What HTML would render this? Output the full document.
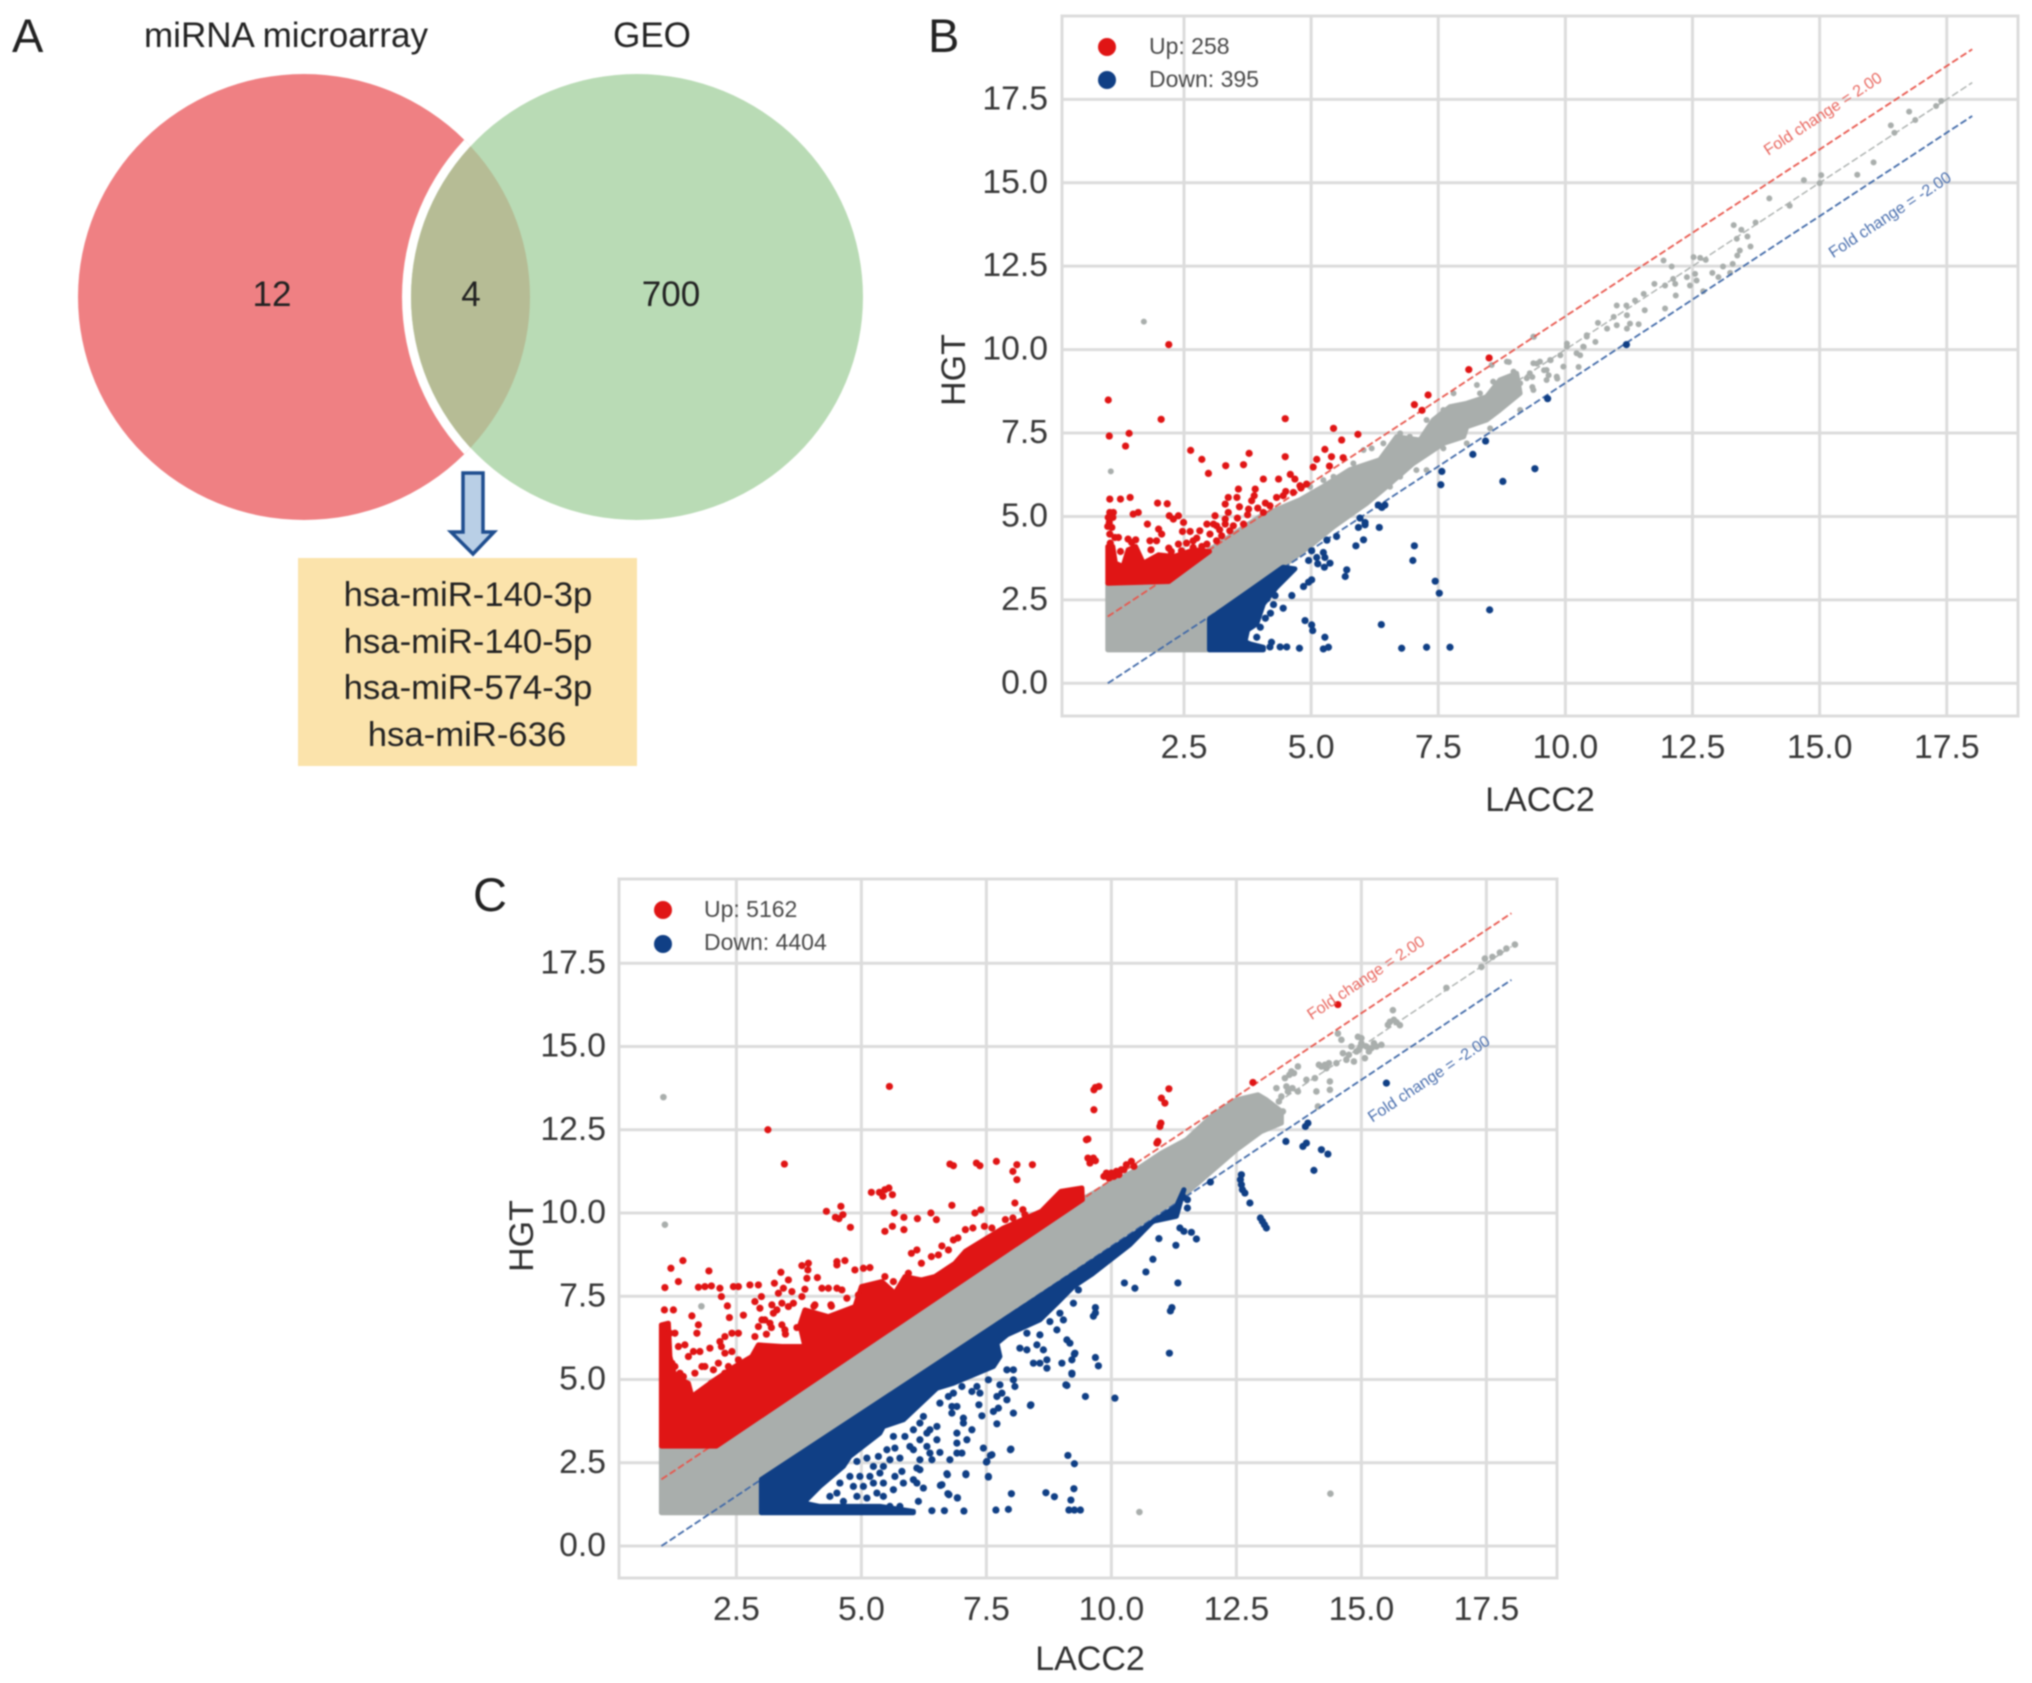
<!DOCTYPE html>
<html lang="en">
<head>
<meta charset="utf-8">
<title>Venn diagram and fold change scatter plots</title>
<style>
html,body{margin:0;padding:0;background:#fff;}
svg{display:block;filter:blur(0.7px);}
text{font-family:"Liberation Sans",sans-serif;}
.tick{font-size:33.7px;fill:#383838;}
.axis-title{font-size:34px;fill:#303030;}
.legend-text{font-size:23px;fill:#4a4a4a;}
.fold-up{font-size:16px;fill:#e8665e;}
.fold-down{font-size:16px;fill:#4a6fae;}
.panel-letter{font-size:47px;fill:#222;}
.venn-text{font-size:35px;fill:#222;}
.mirna{font-size:34.7px;fill:#222;text-anchor:middle;}
</style>
</head>
<body>
<svg id="figure" xmlns="http://www.w3.org/2000/svg" width="2032" height="1683" viewBox="0 0 2032 1683">
<defs>
<clipPath id="red-clip"><ellipse cx="304" cy="297" rx="226" ry="223"/></clipPath>
</defs>
<rect width="2032" height="1683" fill="#fff"/>

<g>
<text class="panel-letter" x="12" y="52">A</text>
<text class="venn-text" x="286" y="47" text-anchor="middle">miRNA microarray</text>
<text class="venn-text" x="652" y="47" text-anchor="middle">GEO</text>
<ellipse cx="304" cy="297" rx="226" ry="223" fill="#ef8083"/>
<ellipse cx="637" cy="297" rx="235" ry="232" fill="#fff" clip-path="url(#red-clip)"/>
<ellipse cx="637" cy="297" rx="226" ry="223" fill="#b9dbb5"/>
<ellipse cx="637" cy="297" rx="226" ry="223" fill="#b6bc95" clip-path="url(#red-clip)"/>
<text class="venn-text" x="272" y="306" text-anchor="middle">12</text>
<text class="venn-text" x="471" y="306" text-anchor="middle">4</text>
<text class="venn-text" x="671" y="306" text-anchor="middle">700</text>
<path d="M463 473 H483 V532 H494 L473 554 L451 532 H463 Z" fill="#b9cfe6" stroke="#1f4e8f" stroke-width="3.5" stroke-linejoin="miter"/>
<rect x="298" y="558" width="339" height="208" fill="#fbe3ab"/>
<text class="mirna" x="468" y="606">hsa-miR-140-3p</text>
<text class="mirna" x="468" y="653">hsa-miR-140-5p</text>
<text class="mirna" x="468" y="699">hsa-miR-574-3p</text>
<text class="mirna" x="467" y="746">hsa-miR-636</text>
</g>

<g id="panel-b"></g>
<g id="panel-c"></g>

<g>
<text class="panel-letter" x="928" y="52">B</text>
<circle cx="1107" cy="47" r="9" fill="#e01515"/>
<circle cx="1107" cy="80" r="9" fill="#103f85"/>
<text class="legend-text" x="1149" y="54">Up: 258</text>
<text class="legend-text" x="1149" y="87">Down: 395</text>
<text class="fold-up" x="1823" y="119" text-anchor="middle" transform="rotate(-33.3 1823 114)">Fold change = 2.00</text>
<text class="fold-down" x="1890" y="220" text-anchor="middle" transform="rotate(-33.3 1890 215)">Fold change = -2.00</text>
<text class="axis-title" x="1540" y="811" text-anchor="middle">LACC2</text>
<text class="axis-title" x="0" y="0" text-anchor="middle" transform="translate(965 370) rotate(-90)">HGT</text>
</g>

<g>
<text class="panel-letter" x="473" y="911">C</text>
<circle cx="663" cy="910" r="9" fill="#e01515"/>
<circle cx="663" cy="944" r="9" fill="#103f85"/>
<text class="legend-text" x="704" y="917">Up: 5162</text>
<text class="legend-text" x="704" y="950">Down: 4404</text>
<text class="fold-up" x="1366" y="983" text-anchor="middle" transform="rotate(-33.7 1366 978)">Fold change = 2.00</text>
<text class="fold-down" x="1429" y="1084" text-anchor="middle" transform="rotate(-33.7 1429 1079)">Fold change = -2.00</text>
<text class="axis-title" x="1090" y="1670" text-anchor="middle">LACC2</text>
<text class="axis-title" x="0" y="0" text-anchor="middle" transform="translate(533 1236) rotate(-90)">HGT</text>
</g>
</svg>

<script>
/* Axis ticks */
const xTickValues = [2.5, 5, 7.5, 10, 12.5, 15, 17.5];
const yTickValues = [0, 2.5, 5, 7.5, 10, 12.5, 15, 17.5];
const xTickLabels = ["2.5", "5.0", "7.5", "10.0", "12.5", "15.0", "17.5"];
const yTickLabels = ["0.0", "2.5", "5.0", "7.5", "10.0", "12.5", "15.0", "17.5"];

/* Fold-change reference lines: [LACC2, HGT] end points */
const foldUpLine = [[1, 2], [18, 19]];
const foldMidLine = [[1, 1], [18, 18]];
const foldDownLine = [[1, 0], [18, 17]];

/* PANEL B: envelope of the saturated point clouds, [LACC2, HGT] */
const bNeutralEnvelope = [[1,1],[1,3],[2,3],[3,4],[4,5],[4.78,5.5],[5.24,5.9],[5.76,6.4],[6.35,6.7],[6.68,7.39],[7.14,7.29],[7.4,7.89],[7.73,8.29],[8.06,8.39],[8.45,8.59],[8.71,9.09],[9.04,9.29],[9.11,8.69],[8.71,8.19],[8.45,7.89],[8.06,7.69],[8,7.39],[7.6,7.19],[7.01,6.59],[6.48,5.89],[6.09,5.39],[5.44,4.69],[5.04,4.19],[4,3],[3,2],[3,1]];
const bUpEnvelope = [[1,3],[2.2,3.05],[3,3.95],[2.7,4],[2.3,3.8],[2,3.85],[1.7,3.6],[1.55,4.1],[1.4,4],[1.3,3.5],[1.15,3.6],[1.1,4.1],[1,4.1]];
const bDownEnvelope = [[3,1],[3,1.93],[3.8,2.78],[4.45,3.48],[4.68,3.43],[4.32,2.88],[4.06,2.38],[3.93,1.78],[3.75,1.6],[3.7,1.25],[3.8,1.18],[4.06,1.08],[4.06,1]];

/* PANEL B: individually visible points, [LACC2, HGT] */
const bUpPoints = [[1.01,8.49],[2.05,7.91],[4.49,7.93],[1.03,7.41],[1.42,7.49],[1.35,7.11],[2.63,6.98],[2.85,6.71],[2.98,6.29],[3.32,6.52],[3.67,6.55],[3.78,6.89],[4.49,6.79],[5.44,7.64],[5.6,7.29],[5.92,7.46],[5.27,7.01],[5.4,6.79],[5.63,6.76],[5.11,6.71],[5.04,6.48],[5.36,6.51],[7.03,8.35],[7.3,8.64],[7.18,8.18],[4.06,6.12],[4.36,6.12],[4.59,6.26],[4.68,6.12],[4.91,5.97],[4.78,5.92],[2.2,10.15],[8.1,9.4],[8.5,9.75],[1.04,5.52],[1.25,5.52],[1.44,5.57],[1.98,5.4],[2.17,5.38],[1.04,5.12],[1.11,5.12],[1.01,4.97],[1.1,4.97],[1.03,4.82],[1,4.7],[1.08,4.67],[1.04,4.47],[1.14,4.37],[1.21,4.37],[1.5,5.07],[1.6,5.12],[1.78,4.77],[2.21,5.02],[2.39,5.02],[2.29,4.92],[2.49,4.82],[2,4.62],[2.06,4.47],[1.83,4.27],[1.96,4.27],[1.4,4.32],[1.47,4.22],[2.47,4.55],[2.62,4.55],[2.81,4.57],[2.95,4.77],[3.08,4.77],[3.11,5.02],[3.01,4.47],[3.14,4.72],[3.31,4.77],[3.47,4.72],[3.67,4.77],[3.31,4.92],[3.37,5.12],[3.31,5.37],[3.37,5.57],[3.57,5.82],[3.54,5.57],[3.59,5.29],[3.77,5.22],[3.83,5.47],[3.9,5.82],[3.88,5.62],[4.06,5.12],[4.19,5.32],[4.32,5.57],[4.45,5.62],[4.65,5.72],[2.68,4.27],[2.68,4.07],[2.95,4.17],[3.14,4.27],[3.24,4.42],[3.4,4.57],[2.39,4.17],[2.45,3.97],[1.85,4],[2.2,4.05],[2.55,4.2],[2.75,4.35],[3.2,4.6],[3.55,4.95],[3.75,5.05],[3.95,5.25],[4.1,5.4],[4.5,5.75],[4.8,5.85],[1.6,3.8],[1.25,3.95],[1.05,4.2],[1.55,4.3],[2.85,4.1],[2.25,3.95]];
const bDownPoints = [[4.19,1.09],[4.39,1.09],[4.52,1.09],[4.77,1.05],[5.27,1.38],[5.24,1.03],[5.34,1.08],[6.78,1.05],[7.27,1.08],[7.73,1.08],[6.38,1.76],[8.51,2.2],[7.44,3.06],[7.52,2.7],[7.03,4.12],[7,3.68],[7.57,6.35],[7.55,5.95],[8.18,6.86],[8.43,7.26],[8.77,6.05],[9.4,6.43],[9.65,8.53],[11.2,10.15],[6.32,5.34],[6.45,5.34],[6.39,5.27],[5.96,4.95],[6.06,4.82],[5.93,4.67],[6.06,4.75],[6.34,4.67],[6.03,4.3],[5.88,4.12],[5.5,4.4],[5.31,4.29],[5.01,3.97],[5.24,3.92],[5.27,3.77],[5.11,3.77],[4.95,3.68],[5.37,3.6],[5.26,3.48],[5.13,3.58],[5.7,3.4],[5.67,3.2],[5.01,3.1],[4.95,3.03],[4.85,2.9],[4.62,2.63],[4.88,1.88],[5.01,1.75],[5.03,1.58],[4.45,2.25],[4.26,2.36],[4.29,2.63],[4.13,2.53],[4,1.68],[4.22,1.23],[3.77,1.83],[3.93,1.38],[3.7,1.5],[4.1,1.95],[4.2,2.1]];
const bNeutralPoints = [[1.71,10.84],[1.06,6.35],[17.39,17.45],[17.29,17.3],[16.76,17.13],[16.88,16.88],[16.4,16.72],[16.47,16.5],[16.06,15.61],[15.74,15.24],[15.03,15.23],[15,14.99],[14.69,15.08],[14.41,14.31],[14.01,14.53],[13.74,13.81],[13.31,13.73],[13.46,13.59],[13.37,13.32],[13.58,13.39],[13.64,13.09],[13.43,12.97],[13.38,12.82],[13.1,12.49],[13.29,12.57],[13.24,12.3],[13.01,12.17],[12.89,12.3],[12.71,11.75],[12.52,12.77],[12.65,12.75],[12.76,12.69],[11.93,12.67],[12.09,12.49],[12.12,12.12],[12.16,11.97],[11.96,11.92],[12.39,12.17],[12.55,12.27],[12.45,11.92],[12.58,12.07],[12.17,11.62],[11.75,11.97],[11.54,11.67],[11.37,11.47],[11.2,11.32],[11.01,11.32],[11.21,11.03],[11.56,11.18],[11.96,11.23],[10.95,10.98],[10.64,10.8],[11.01,10.73],[11.27,10.78],[11.44,10.76],[11.21,10.63],[10.82,10.63],[10.59,10.23],[10.42,10.43],[10.36,10.08],[10.29,9.83],[10.26,9.48],[10.03,10.18],[9.9,9.83],[9.71,9.68],[9.38,10.38],[9.44,9.58],[9.58,9.38],[9.35,9.18],[9.35,8.88],[9.84,9.13],[9.67,9.23],[8.89,9.63],[8.99,9.28],[8.86,8.88],[4.98,5.89],[5.24,6.09],[5.44,6.19],[5.63,6.19],[5.83,6.59],[6.03,6.99],[6.19,7.04],[6.42,7.19],[6.75,7.49],[6.94,7.39],[7.27,7.89],[7.6,8.19],[7.8,8.69],[8.26,8.94],[8.32,8.69],[8.58,9.04],[8.98,9.34],[9.37,9.59],[9.5,9.64],[9.7,9.69],[9.3,9.29],[9.37,8.79],[9.63,9.09],[9.83,9.19],[9.96,9.49],[10.03,10.09],[10.35,10.09],[10.42,10.39],[10.22,9.89],[8.85,9.64],[9.37,10.39],[8.55,9.54],[6.55,5.89],[6.75,6.19],[7.07,6.39],[7.27,6.39],[7.6,7.04],[8.06,7.19],[8.52,7.64],[9.11,8.19],[9.63,9.39],[9.11,8.99],[9.24,9.14]];

/* PANEL C: envelope of the saturated point clouds, [LACC2, HGT] */
const cNeutralEnvelope = [[1,1],[1,3],[2.1,3.1],[9.4,10.4],[10.5,11.3],[11,11.8],[11.5,12.2],[12,12.9],[12.5,13.4],[12.93,13.55],[13.1,13.4],[13.4,13.05],[13.4,12.7],[13,12.45],[12.5,11.9],[12,11.25],[11.5,10.6],[11,10.1],[10,9.1],[3,2],[3,1]];
const cUpEnvelope = [[1,3],[2.1,3],[9.42,10.4],[9.41,10.75],[8.99,10.65],[8.6,10.05],[7.84,9.55],[7.08,8.85],[6.87,8.49],[6.47,8.09],[6.2,7.99],[5.87,8.09],[5.67,7.59],[5.41,7.94],[5,7.79],[4.87,7.19],[4.34,6.89],[3.87,7.09],[3.77,6.64],[3.87,5.99],[3.41,5.99],[2.94,6.04],[2.81,5.69],[2.47,5.39],[2.07,4.99],[1.61,4.49],[1.54,4.89],[1.27,5.09],[1.17,5.69],[1.14,6.69],[1,6.64]];
const cDownEnvelope = [[3,1],[3,2],[11.3,10.2],[11.45,10.7],[11.3,9.9],[10.83,9.75],[10.37,9.05],[9.6,8.15],[9.24,7.79],[8.91,7.29],[8.57,6.79],[7.91,6.34],[7.71,6.09],[7.77,5.69],[7.64,5.39],[6.84,4.89],[6.51,4.74],[5.84,3.79],[5.44,3.59],[5.37,3.39],[4.77,2.69],[4.64,2.39],[4.17,1.79],[3.84,1.29],[4.17,1.19],[5.37,1.19],[6.04,1.04],[6.04,1]];

/* PANEL C: individually visible points, [LACC2, HGT] */
const cUpPoints = [[3.46,11.47],[6.77,11.47],[6.84,11.42],[7.3,11.5],[7.37,11.42],[7.7,11.55],[8.11,11.45],[8.03,11.25],[8.11,11],[8.42,11.45],[9.53,12.22],[9.64,11.65],[9.57,11.5],[10.91,12.1],[5.2,10.62],[5.36,10.62],[5.43,10.5],[5.55,10.75],[5.62,10.55],[5.47,10.7],[4.3,10.05],[4.48,9.87],[4.59,10.2],[4.63,9.95],[4.55,9.83],[4.78,9.57],[5.66,10],[5.85,9.87],[5.85,9.5],[5.62,9.6],[5.47,9.45],[6.12,9.83],[6.39,10],[6.5,9.8],[6.81,10.23],[7.27,10],[7.39,10.1],[8.07,10.3],[8.23,10.1],[7.88,9.8],[8.03,9.85],[8.27,9.95],[1.17,6.39],[1.27,6.39],[1.34,5.99],[1.47,6.04],[1.27,5.39],[1.37,5.19],[1.54,5.69],[1.64,5.84],[1.77,5.84],[1.97,5.94],[2.17,6.14],[2.27,6.29],[2.41,6.39],[2.54,6.39],[2.27,5.79],[2.41,5.84],[1.87,5.39],[2.04,5.29],[2.27,5.19],[2.54,5.59],[1.71,6.39],[1.74,6.64],[1.61,6.91],[1.24,7.09],[1.06,7.09],[1.07,7.76],[1.34,7.94],[1.19,8.34],[1.43,8.57],[1.95,8.26],[1.74,7.77],[1.87,7.79],[2,7.81],[2.17,7.74],[2.2,7.49],[2.32,7.21],[2.36,6.86],[2.64,6.93],[2.44,7.79],[2.54,7.79],[2.77,7.84],[2.94,7.84],[2.87,7.34],[3,7.49],[2.97,7.14],[3.07,6.79],[3.21,7.24],[3.31,7.09],[3.24,6.99],[3.41,7.29],[3.54,7.19],[3.64,7.29],[3.34,7.59],[3.44,7.74],[3.54,7.99],[3.39,8.22],[3.26,7.89],[3.61,7.64],[3.81,7.49],[3.87,7.71],[4.12,8.06],[4.21,7.74],[3.91,8.04],[3.93,8.29],[3.81,8.42],[3.94,8.49],[4.07,7.24],[4.39,7.24],[4.34,7.74],[4.51,7.74],[4.61,7.69],[4.71,7.44],[4.94,7.54],[4.51,8.54],[4.67,8.57],[4.51,8.44],[4.87,8.29],[5.04,8.34],[5.17,8.36],[5.47,8.09],[5.64,7.94],[5.94,8.19],[6,8.79],[6.11,8.89],[6.2,8.49],[6.4,8.69],[6.54,8.74],[6.61,9.01],[6.74,8.89],[6.84,9.19],[3.47,6.49],[3.17,6.69],[3.01,6.79],[3.41,6.64],[2.2,5.99],[2.87,6.29],[2.94,6.59],[1.14,5.89],[1.21,5.49],[1.44,5.09],[1.67,5.19],[1.81,5.39],[2,4.89],[2.14,5.49],[2.34,5.39],[3.1,6.36],[3.2,6.56],[3.48,6.36],[3.71,6.56],[3.94,6.06],[4.05,7.2],[4.4,7.2],[6.93,9.25],[7.08,9.5],[7.23,9.55],[7.46,9.6],[7.61,9.55],[5.56,13.8],[3.13,12.5],[9.68,13.77],[9.75,13.8],[9.65,13.7],[9.65,13.1],[11.15,13.73],[11,13.45],[11.07,13.3],[10.99,12.7],[10.93,12.15],[10.97,12.6],[9.5,12.2],[12.83,13.92],[14.53,16.26],[9.53,11.65],[9.68,11.57],[9.85,11.1],[9.95,11.05],[10.05,11.1],[10.1,11.25],[10.2,11.3],[10.3,11.45],[10.4,11.55],[10.45,11.4],[10,11.2],[9.9,11.2],[10.15,11.15],[10.25,11.3]];
const cDownPoints = [[11.98,10.93],[11.52,10.4],[11.52,10.15],[10.95,9.23],[11.29,9.03],[11.7,9.22],[11.6,9.42],[11.37,9.55],[11.45,9.45],[10.83,8.61],[10.69,8.23],[11.33,7.9],[10.26,7.9],[10.47,7.74],[11.21,7.16],[11.18,7.06],[9.68,7.16],[9.68,7],[9.64,6.9],[11.16,5.79],[9.68,5.66],[9.74,5.41],[9.26,5.76],[9.21,5.16],[9.11,4.82],[9.48,4.49],[10.07,4.44],[8.38,4.22],[7.98,2.89],[9.13,2.72],[9.26,2.47],[7.58,2.72],[7.5,2.52],[7.54,2.07],[9.25,1.72],[8.69,1.6],[8.86,1.48],[9.19,1.38],[8,1.57],[7.09,2.14],[6.72,2.14],[6.58,1.82],[6.73,1.57],[6.92,1.45],[9.15,1.08],[9.26,1.08],[9.38,1.08],[7.94,1.1],[7.69,1.08],[7.05,1.05],[6.66,1.06],[6.41,1.06],[4.37,1.49],[4.51,1.59],[4.64,1.34],[4.91,1.49],[5.11,1.44],[5.31,1.59],[5.44,1.49],[4.84,1.79],[5.04,1.79],[5.24,1.89],[5.44,1.89],[4.97,2.09],[5.17,2.09],[5.37,2.19],[4.77,2.09],[4.57,1.89],[5.57,1.19],[5.77,1.19],[5.64,1.69],[5.84,1.89],[5.67,2.09],[5.44,2.39],[5.24,2.39],[4.91,2.54],[5.11,2.64],[5.34,2.69],[5.57,2.59],[5.77,2.64],[5.51,2.89],[5.67,2.94],[5.64,3.29],[5.87,3.29],[6.04,3.49],[5.97,2.99],[6.04,2.89],[6.17,2.59],[6.37,2.79],[6.31,2.99],[6.51,3.19],[6.37,3.49],[6.17,3.69],[6.24,3.89],[6.51,3.59],[6.17,3.19],[6.31,3.39],[6.11,2.34],[6.17,2.29],[6.04,1.99],[6.11,1.89],[5.81,2.24],[6.24,1.74],[6.14,1.34],[6.61,1.84],[6.75,1.54],[6.92,1.44],[6.71,2.17],[7.09,2.17],[7.54,2.09],[6.77,2.59],[7.51,2.54],[7.44,2.94],[7.61,2.74],[7.99,2.91],[7.01,2.79],[6.91,2.79],[6.57,2.81],[6.41,2.59],[7.11,3.19],[6.91,3.09],[6.91,3.39],[7.21,3.49],[7.04,3.69],[6.81,3.99],[7.04,3.84],[7.41,3.91],[7.71,3.67],[7.64,4.04],[7.74,4.14],[8.04,3.99],[8.39,4.24],[6.81,4.19],[6.91,4.19],[6.57,4.29],[6.74,4.49],[6.84,4.59],[7.01,4.79],[7.21,4.64],[7.31,4.79],[7.37,4.59],[7.35,4.24],[7.54,4.99],[7.77,4.84],[7.71,4.49],[7.91,4.39],[7.81,4.59],[8.04,4.99],[8.07,4.79],[7.91,5.29],[8.04,5.29],[8.17,5.94],[8.31,5.89],[8.51,6.04],[8.64,5.89],[8.71,5.59],[8.44,5.49],[8.57,5.49],[8.71,5.34],[9.01,5.49],[9.21,5.19],[9.21,5.59],[9.27,5.79],[9.09,4.84],[8.97,6.99],[9.04,6.79],[8.91,6.49],[9.11,6.19],[9.17,6.09],[8.77,6.74],[8.61,7.04],[8.31,6.39],[8.57,6.34],[9.24,7.29],[9.34,7.69],[12.6,11.15],[12.58,11],[12.6,10.85],[12.62,10.7],[12.67,10.6],[12.77,10.3],[12.98,9.85],[13.02,9.75],[13.06,9.65],[13.1,9.55],[13.49,12.15],[13.83,12],[13.9,12.1],[13.93,12.7],[13.88,12.6],[14.2,11.9],[14.33,11.77],[14.05,11.28],[15.5,13.9],[11.44,10.47]];
const cNeutralPoints = [[1.04,13.48],[1.07,9.65],[1.8,7.2],[10.56,1.02],[14.38,1.57],[18.07,18.06],[17.9,17.94],[17.77,17.82],[17.62,17.69],[17.47,17.64],[17.4,17.39],[16.7,16.76],[15.63,16.09],[15.77,15.64],[15.57,15.74],[15.65,15.8],[15.53,15.65],[15.7,15.73],[14.93,15.29],[15,15.1],[15.1,15],[15.2,14.95],[15.3,15],[15.4,15.05],[14.95,14.9],[15.07,14.65],[14.9,14.85],[14.63,14.8],[14.7,14.6],[14.5,14.5],[14.27,14.45],[14.35,14.5],[14.2,14.4],[14.53,15.39],[14.6,15.2],[13.6,14.25],[13.73,14.4],[13.47,14.05],[13.53,13.65],[13.73,13.65],[14.1,13.65],[14.37,13.95],[14.37,13.7],[14.07,14.05],[13.9,14],[14.13,13.2],[13.43,13.05],[13.65,14.2],[13.4,13.5],[13.35,13.35],[13.3,13.75],[14.85,14.55],[15,15.25],[14.8,15],[14.98,15],[15.15,14.85],[15.25,15.1],[14.75,14.75],[14.3,14.35],[14.15,14.45],[13.56,14.15],[13.62,13.75],[13.5,13.8]];

const svgNS = "http://www.w3.org/2000/svg";
const COLOR_UP = "#e01515";
const COLOR_DOWN = "#103f85";
const COLOR_NEUTRAL = "#a9aeac";

function linearScale(origin, perUnit) {
  return function (v) { return origin + v * perUnit; };
}

function make(parent, tag, props) {
  const el = document.createElementNS(svgNS, tag);
  for (const k in props) el.setAttribute(k, props[k]);
  parent.appendChild(el);
  return el;
}

function outlinePath(points, xs, ys) {
  return points.map(function (p, i) {
    return (i ? "L" : "M") + xs(p[0]).toFixed(1) + " " + ys(p[1]).toFixed(1);
  }).join(" ") + " Z";
}

function drawPanel(g, cfg) {
  const xs = cfg.xs, ys = cfg.ys;

  const frame = make(g, "rect", {x: cfg.left, y: cfg.top, width: cfg.right - cfg.left, height: cfg.bottom - cfg.top, fill: "#fff", stroke: "#dcdcdc", "stroke-width": 3});
  
  

  xTickValues.forEach(function (v, i) {
    const line = make(g, "line", {x1: xs(v), x2: xs(v), y1: cfg.top, y2: cfg.bottom, stroke: "#dcdcdc", "stroke-width": 3});
    
    
    const label = make(g, "text", {x: xs(v), y: cfg.xLabelY, "text-anchor": "middle", class: "tick"});
    
    
    label.textContent = xTickLabels[i];
  });

  yTickValues.forEach(function (v, i) {
    const line = make(g, "line", {x1: cfg.left, x2: cfg.right, y1: ys(v), y2: ys(v), stroke: "#dcdcdc", "stroke-width": 3});
    
    
    const label = make(g, "text", {x: cfg.yLabelX, y: ys(v) + 10, "text-anchor": "end", class: "tick"});
    
    
    label.textContent = yTickLabels[i];
  });

  const neutralCloud = make(g, "path", {d: outlinePath(cfg.neutralEnvelope, xs, ys), fill: COLOR_NEUTRAL, stroke: COLOR_NEUTRAL, "stroke-width": 5, "stroke-linejoin": "round"});
  
  

  cfg.neutralPoints.forEach(function (p) {
    const c = make(g, "circle", {cx: xs(p[0]), cy: ys(p[1]), r: cfg.neutralRadius, fill: COLOR_NEUTRAL});
    
    
  });

  const up = make(g, "line", {x1: xs(foldUpLine[0][0]), y1: ys(foldUpLine[0][1]), x2: xs(foldUpLine[1][0]), y2: ys(foldUpLine[1][1]), stroke: "#e8564c", "stroke-width": 1.8, "stroke-dasharray": "7 3"});
  
  

  const mid = make(g, "line", {x1: xs(foldMidLine[0][0]), y1: ys(foldMidLine[0][1]), x2: xs(foldMidLine[1][0]), y2: ys(foldMidLine[1][1]), stroke: "#a9aeac", "stroke-width": 1.4, "stroke-dasharray": "7 3"});
  
  

  const down = make(g, "line", {x1: xs(foldDownLine[0][0]), y1: ys(foldDownLine[0][1]), x2: xs(foldDownLine[1][0]), y2: ys(foldDownLine[1][1]), stroke: "#4069a8", "stroke-width": 1.8, "stroke-dasharray": "7 3"});
  
  

  const upCloud = make(g, "path", {d: outlinePath(cfg.upEnvelope, xs, ys), fill: COLOR_UP, stroke: COLOR_UP, "stroke-width": 5, "stroke-linejoin": "round"});
  
  

  cfg.upPoints.forEach(function (p) {
    const c = make(g, "circle", {cx: xs(p[0]), cy: ys(p[1]), r: 3.6, fill: COLOR_UP});
    
    
  });

  const downCloud = make(g, "path", {d: outlinePath(cfg.downEnvelope, xs, ys), fill: COLOR_DOWN, stroke: COLOR_DOWN, "stroke-width": 5, "stroke-linejoin": "round"});
  
  

  cfg.downPoints.forEach(function (p) {
    const c = make(g, "circle", {cx: xs(p[0]), cy: ys(p[1]), r: 3.6, fill: COLOR_DOWN});
    
    
  });
}

drawPanel(document.getElementById("panel-b"), {
  xs: linearScale(1056.9, 50.85), ys: linearScale(683.3, -33.37),
  left: 1062, right: 2018, top: 16, bottom: 716,
  xLabelY: 758, yLabelX: 1048, neutralRadius: 3,
  neutralEnvelope: bNeutralEnvelope, upEnvelope: bUpEnvelope, downEnvelope: bDownEnvelope,
  neutralPoints: bNeutralPoints, upPoints: bUpPoints, downPoints: bDownPoints
});

drawPanel(document.getElementById("panel-c"), {
  xs: linearScale(611.4, 50), ys: linearScale(1546, -33.3),
  left: 619, right: 1557, top: 879, bottom: 1578,
  xLabelY: 1620, yLabelX: 606, neutralRadius: 3.3,
  neutralEnvelope: cNeutralEnvelope, upEnvelope: cUpEnvelope, downEnvelope: cDownEnvelope,
  neutralPoints: cNeutralPoints, upPoints: cUpPoints, downPoints: cDownPoints
});
</script>
</body>
</html>
